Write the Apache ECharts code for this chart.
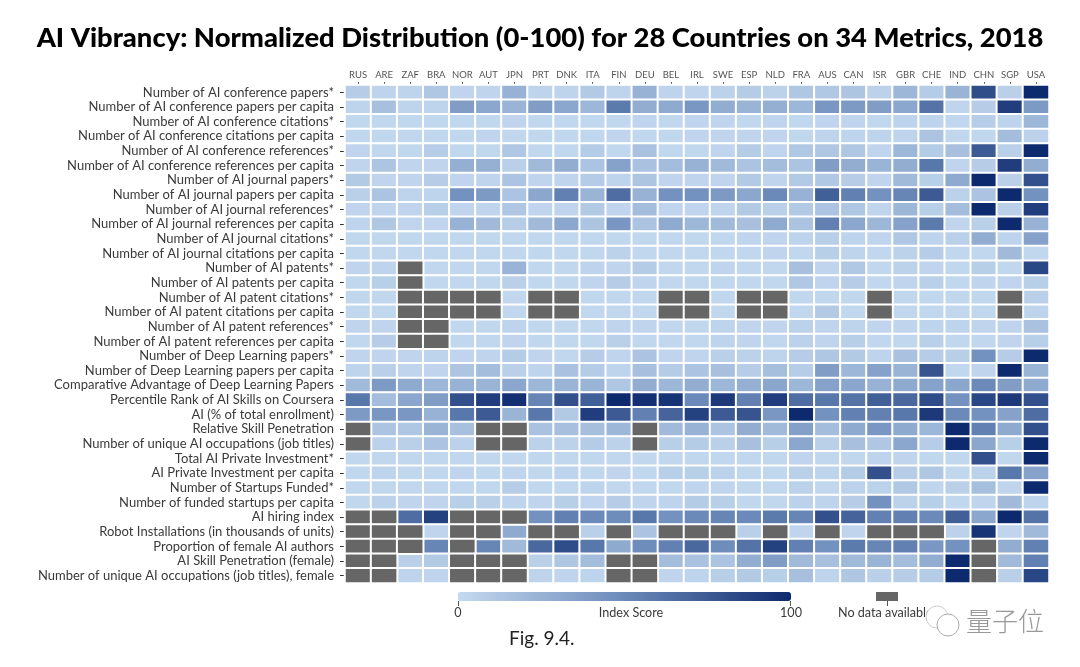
<!DOCTYPE html>
<html>
<head>
<meta charset="UTF-8">
<title>AI Vibrancy</title>
<script src="https://cdn.jsdelivr.net/npm/echarts@6/dist/echarts.min.js"></script>
<style>
	html, body { margin: 0; padding: 0; background: #fff; }
	#main { width: 1080px; height: 667px; }
</style>
</head>
<body>
<div id="main"></div>
<script>
var titleText = 'AI Vibrancy: Normalized Distribution (0-100) for 28 Countries on 34 Metrics, 2018';
var countries = ['RUS','ARE','ZAF','BRA','NOR','AUT','JPN','PRT','DNK','ITA','FIN','DEU','BEL','IRL','SWE','ESP','NLD','FRA','AUS','CAN','ISR','GBR','CHE','IND','CHN','SGP','USA'];
var metrics = [
	'Number of AI conference papers*',
	'Number of AI conference papers per capita',
	'Number of AI conference citations*',
	'Number of AI conference citations per capita',
	'Number of AI conference references*',
	'Number of AI conference references per capita',
	'Number of AI journal papers*',
	'Number of AI journal papers per capita',
	'Number of AI journal references*',
	'Number of AI journal references per capita',
	'Number of AI journal citations*',
	'Number of AI journal citations per capita',
	'Number of AI patents*',
	'Number of AI patents per capita',
	'Number of AI patent citations*',
	'Number of AI patent citations per capita',
	'Number of AI patent references*',
	'Number of AI patent references per capita',
	'Number of Deep Learning papers*',
	'Number of Deep Learning papers per capita',
	'Comparative Advantage of Deep Learning Papers',
	'Percentile Rank of AI Skills on Coursera',
	'AI (% of total enrollment)',
	'Relative Skill Penetration',
	'Number of unique AI occupations (job titles)',
	'Total AI Private Investment*',
	'AI Private Investment per capita',
	'Number of Startups Funded*',
	'Number of funded startups per capita',
	'AI hiring index',
	'Robot Installations (in thousands of units)',
	'Proportion of female AI authors',
	'AI Skill Penetration (female)',
	'Number of unique AI occupations (job titles), female'
];
// one row per metric, same order as countries, null = no data
var n = null;
var scores = [
	[8,4,4,12,3,3,25,4,4,10,4,25,4,3,5,9,5,12,11,13,5,22,9,24,82,6,100],
	[4,16,4,4,38,32,24,38,32,22,58,28,30,42,28,24,27,22,42,40,38,32,62,3,8,90,40],
	[2,2,2,2,2,2,3,2,2,2,2,3,2,3,3,2,3,2,3,3,2,4,4,2,8,4,22],
	[2,2,2,2,2,3,2,2,2,2,3,2,2,3,3,3,3,2,4,4,4,4,14,2,2,18,5],
	[3,2,2,8,2,2,12,2,2,9,2,15,2,2,3,9,3,11,12,12,3,22,9,16,75,6,100],
	[3,13,3,3,27,26,6,20,28,14,35,15,18,25,20,14,18,14,38,28,24,28,60,3,8,90,28],
	[10,3,3,8,3,3,14,3,3,9,4,13,3,3,3,10,3,10,11,8,3,20,7,30,100,6,80],
	[6,14,4,4,45,40,14,32,55,24,65,25,45,45,40,32,50,25,72,55,45,52,75,5,14,100,45],
	[3,3,3,7,3,3,12,3,3,10,3,18,3,3,3,10,6,10,14,12,3,22,7,18,100,6,90],
	[4,12,3,3,25,20,8,20,32,13,42,14,30,22,20,16,30,14,55,32,22,35,58,3,6,100,25],
	[2,2,2,2,2,2,2,2,2,2,2,2,2,2,2,3,3,4,7,4,3,12,4,6,28,4,35],
	[2,2,2,2,2,2,2,2,2,2,5,2,2,2,2,2,3,2,7,4,2,5,8,2,2,20,2],
	[3,4,n,2,2,2,24,2,2,4,3,9,2,2,3,2,2,16,3,11,2,5,3,2,7,2,85],
	[2,7,n,2,2,2,6,2,2,3,8,3,2,2,2,2,2,11,3,8,2,3,6,2,3,3,7],
	[2,2,n,n,n,n,2,n,n,2,2,2,n,n,2,n,n,2,2,2,n,2,2,2,2,n,6],
	[2,2,n,n,n,n,2,n,n,2,2,2,n,n,2,n,n,2,10,2,n,2,2,2,2,n,4],
	[3,3,n,n,2,2,4,2,2,2,3,3,2,2,4,3,3,5,3,4,3,3,4,4,3,4,15],
	[2,8,n,n,2,2,3,2,2,2,6,2,2,2,4,3,2,5,3,7,2,2,6,2,2,3,7],
	[3,3,3,4,3,3,9,3,2,8,3,14,3,3,6,5,4,8,12,10,4,15,8,7,45,8,100],
	[4,6,3,3,13,18,6,4,15,9,4,16,9,14,16,8,17,8,38,22,35,24,78,2,3,100,24],
	[20,40,30,22,25,24,32,22,24,24,12,28,22,28,22,26,32,22,35,32,25,30,35,32,50,38,30],
	[60,18,32,38,80,90,97,52,80,72,100,97,95,50,92,55,90,65,60,62,72,68,82,45,85,92,80],
	[40,42,42,25,60,75,24,60,10,90,75,55,70,88,75,78,42,100,45,55,55,60,92,50,45,35,65],
	[n,14,12,24,16,n,n,15,16,17,22,n,20,25,14,28,20,36,18,30,42,30,22,100,55,30,80],
	[n,5,6,14,5,n,n,5,5,9,5,n,7,9,6,16,7,32,6,16,12,32,8,100,32,7,100],
	[2,2,2,2,2,2,2,2,2,2,2,2,2,2,2,2,2,3,2,2,4,3,2,2,80,2,100],
	[2,4,2,2,3,2,3,2,4,2,3,2,7,7,5,2,2,6,4,9,80,8,12,2,5,60,35],
	[2,2,2,2,2,2,8,2,2,4,2,2,2,3,3,2,2,5,2,5,5,11,3,6,17,3,100],
	[2,5,3,3,7,6,4,3,7,3,8,3,4,9,7,2,2,5,4,8,45,5,7,2,3,20,4],
	[n,n,65,88,n,n,n,45,55,50,48,60,45,50,52,50,58,52,80,70,55,55,50,72,32,100,62],
	[n,n,n,3,n,n,30,n,n,6,n,14,n,n,n,6,n,3,n,3,n,n,n,5,95,3,20],
	[n,n,n,52,n,52,20,68,82,60,30,48,55,68,48,62,88,55,45,58,52,55,42,45,n,28,55],
	[n,n,6,10,n,n,n,6,12,18,n,n,18,15,14,28,38,20,16,20,24,18,28,100,n,20,55],
	[n,n,4,3,n,n,n,4,3,4,n,n,3,4,7,10,7,16,4,12,6,8,9,100,n,6,85]
];

var scoreCells = [];
var noDataCells = [];
for (var r = 0; r < scores.length; r++) {
	for (var c = 0; c < countries.length; c++) {
		if (scores[r][c] === null) {
			noDataCells.push([c, r, 0]);
		} else {
			scoreCells.push([c, r, scores[r][c]]);
		}
	}
}

var labelFont = 'Lato, "Open Sans", sans-serif';
var myChart = echarts.init(document.getElementById('main'));

myChart.setOption({
	animation: false,
	title: {
		text: titleText,
		left: 'center',
		top: 20,
		textStyle: { fontFamily: labelFont, fontSize: 27.4, fontWeight: 900, color: '#000' }
	},
	grid: { left: 345, top: 85, width: 704, height: 498 },
	xAxis: {
		type: 'category',
		position: 'top',
		data: countries,
		axisLine: { show: false },
		axisTick: { show: true, alignWithLabel: true, length: 3, lineStyle: { color: '#555' } },
		axisLabel: { interval: 0, margin: 5, fontSize: 9.5, fontFamily: labelFont, color: '#555' },
		splitLine: { show: false }
	},
	yAxis: {
		type: 'category',
		inverse: true,
		data: metrics,
		axisLine: { show: false },
		axisTick: { show: true, alignWithLabel: true, length: 5, lineStyle: { color: '#333' } },
		axisLabel: { interval: 0, margin: 11, fontSize: 13, fontFamily: labelFont, color: '#3a3a3a' },
		splitLine: { show: false }
	},
	visualMap: {
		type: 'continuous',
		seriesIndex: 0,
		min: 0,
		max: 100,
		orient: 'horizontal',
		left: 458,
		top: 592,
		itemWidth: 9,
		itemHeight: 333,
		text: ['', ''],
		showLabel: false,
		calculable: false,
		hoverLink: false,
		padding: 0,
		inRange: { color: ['#c5daf0', '#6b8ab9', '#0e2a6e'] }
	},
	series: [
		{
			name: 'Index Score',
			type: 'heatmap',
			data: scoreCells,
			itemStyle: { borderColor: '#fff', borderWidth: 2 }
		},
		{
			name: 'No data available',
			type: 'heatmap',
			data: noDataCells,
			itemStyle: { color: '#666', borderColor: '#fff', borderWidth: 2 }
		}
	],
	graphic: [
		{ type: 'rect', silent: true, shape: { x: 458, y: 601, width: 1, height: 5 }, style: { fill: '#555' } },
		{ type: 'rect', silent: true, shape: { x: 790, y: 601, width: 1, height: 5 }, style: { fill: '#555' } },
		{ type: 'text', silent: true, style: { x: 458, y: 613, text: '0', align: 'center', verticalAlign: 'middle', fontSize: 12.6, fontFamily: labelFont, fill: '#3a3a3a' } },
		{ type: 'text', silent: true, style: { x: 631, y: 613, text: 'Index Score', align: 'center', verticalAlign: 'middle', fontSize: 12.6, fontFamily: labelFont, fill: '#3a3a3a' } },
		{ type: 'text', silent: true, style: { x: 791, y: 613, text: '100', align: 'center', verticalAlign: 'middle', fontSize: 12.6, fontFamily: labelFont, fill: '#3a3a3a' } },
		{ type: 'rect', silent: true, shape: { x: 876, y: 592, width: 22, height: 9 }, style: { fill: '#666' } },
		{ type: 'rect', silent: true, shape: { x: 887, y: 601, width: 1, height: 5 }, style: { fill: '#555' } },
		{ type: 'text', silent: true, style: { x: 838, y: 613, text: 'No data available', align: 'left', verticalAlign: 'middle', fontSize: 12.6, fontFamily: labelFont, fill: '#3a3a3a' } },
		{ type: 'text', silent: true, style: { x: 509, y: 639, text: 'Fig. 9.4.', align: 'left', verticalAlign: 'middle', fontSize: 19, fontFamily: labelFont, fill: '#222' } },
		// watermark
		{ type: 'circle', silent: true, shape: { cx: 937, cy: 617, r: 11 }, style: { fill: '#fff', stroke: '#ccc', lineWidth: 1 } },
		{ type: 'circle', silent: true, shape: { cx: 948, cy: 625, r: 11 }, style: { fill: '#fff', stroke: '#aaa', lineWidth: 1 } },
		{ type: 'text', silent: true, style: { x: 966, y: 621, text: '量子位', align: 'left', verticalAlign: 'middle', fontSize: 26, fontFamily: '"Noto Sans CJK SC"', fontWeight: 300, fill: '#999' } }
	]
});
</script>
</body>
</html>
